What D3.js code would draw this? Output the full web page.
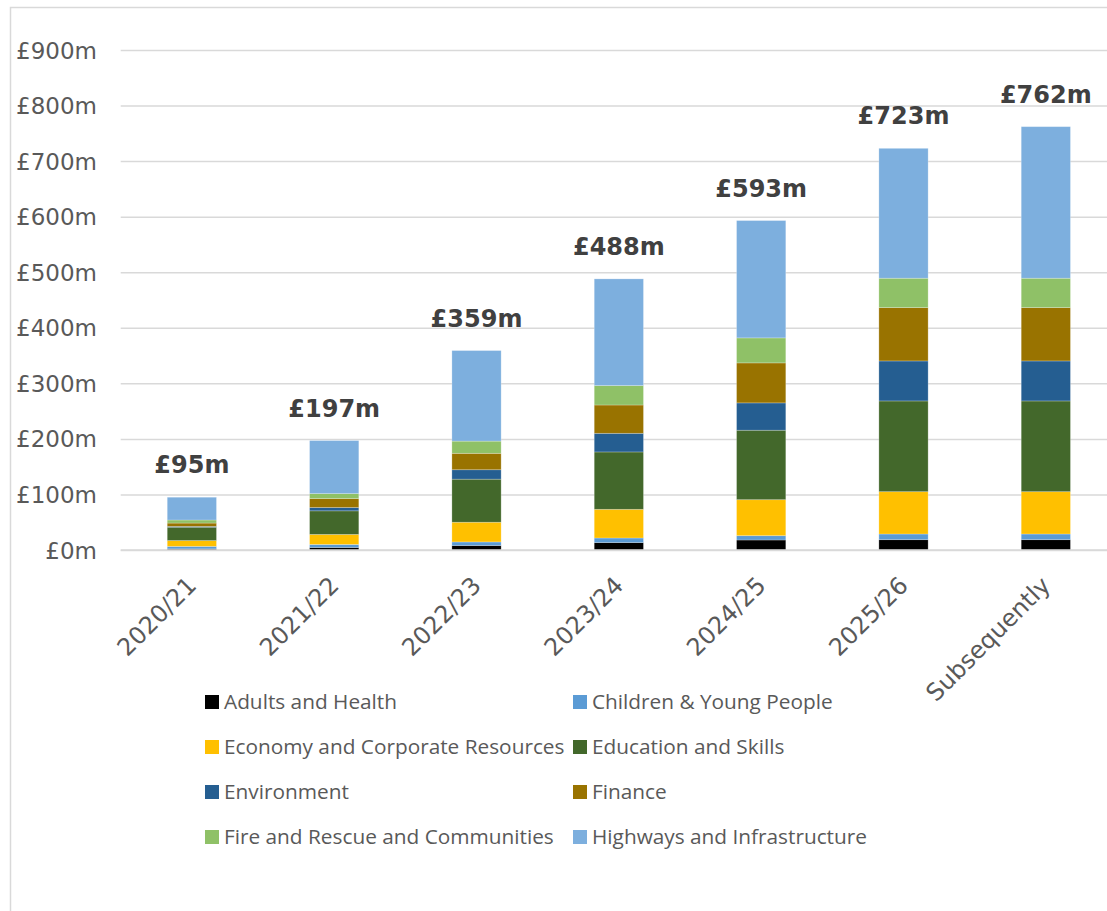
<!DOCTYPE html>
<html>
<head>
<meta charset="utf-8">
<script src="https://cdn.jsdelivr.net/npm/d3@7"></script>
<style>
  html, body { margin: 0; padding: 0; background: #ffffff; }
  svg { display: block; }
</style>
</head>
<body>
<svg id="chart" width="1107" height="911"></svg>
<script>
// ---- data ----
const categories = ["2020/21", "2021/22", "2022/23", "2023/24", "2024/25", "2025/26", "Subsequently"];
const seriesNames = [
  "Adults and Health",
  "Children & Young People",
  "Economy and Corporate Resources",
  "Education and Skills",
  "Environment",
  "Finance",
  "Fire and Rescue and Communities",
  "Highways and Infrastructure"
];
const adultsHealth      = [2,   4.5,  8,    13.3,  18,    18.6,  18.6];
const childrenYoung     = [4.5, 5.5,  6.5,  8.3,   7.8,   10.2,  10.2];
const economyCorporate  = [10.5,18,   35.5, 51.6,  64.8,  76.2,  76.2];
const educationSkills   = [24,  42.5, 77.5, 103.3, 125,   163.3, 163.3];
const environment       = [1.5, 6,    17,   33.5,  49.2,  72,    72];
const finance           = [6,   16,   29.5, 51,    72,    96,    96];
const fireRescue        = [5.5, 9,    22,   35,    45,    52.9,  52.9];
const highways          = [41,  95.5, 163,  192,   211.2, 233.8, 272.8];
const totals            = [95, 197, 359, 488, 593, 723, 762];
const totalLabels       = ["£95m", "£197m", "£359m", "£488m", "£593m", "£723m", "£762m"];
const yTicks            = [0, 100, 200, 300, 400, 500, 600, 700, 800, 900];

const seriesValues = [adultsHealth, childrenYoung, economyCorporate, educationSkills,
                      environment, finance, fireRescue, highways];
const colors = ["#000000", "#5B9BD5", "#FFC000", "#43682B", "#255E91", "#997300", "#8FC167", "#7DAFDE"];

// ---- build table ----
const table = categories.map((c, i) => {
  const row = { category: c };
  seriesNames.forEach((s, j) => { row[s] = seriesValues[j][i]; });
  return row;
});

const svg = d3.select("#chart");

// chart outer border
svg.append("rect")
  .attr("x", 10.5).attr("y", 7.5)
  .attr("width", 1130).attr("height", 930)
  .attr("fill", "#ffffff")
  .attr("stroke", "#d9d9d9").attr("stroke-width", 1.5);

const x = d3.scaleBand()
  .domain(categories)
  .range([120.7, 1117])
  .paddingInner(0.654)
  .paddingOuter(0.327);

const y = d3.scaleLinear().domain([0, 900]).range([550, 50]);

// gridlines
const grid = svg.append("g")
  .attr("transform", "translate(120.7,0)")
  .call(d3.axisLeft(y).tickValues(yTicks).tickSize(-996.3).tickFormat(""));
grid.select(".domain").remove();
grid.selectAll("line").attr("stroke", "#d9d9d9").attr("stroke-width", 1.5);

// y axis labels
const yAxis = svg.append("g")
  .attr("transform", "translate(97,0)")
  .call(d3.axisLeft(y).tickValues(yTicks).tickSize(0).tickPadding(0).tickFormat(d => "£" + d + "m"));
yAxis.select(".domain").remove();
yAxis.selectAll("text")
  .attr("font-family", "'DejaVu Sans', Verdana, sans-serif")
  .attr("font-size", 23)
  .attr("fill", "#595959")
  .attr("dy", "0.35em");

// stacked bars
const stack = d3.stack().keys(seriesNames);
const stacked = stack(table);

svg.append("g").selectAll("g")
  .data(stacked)
  .join("g")
  .attr("fill", (d, i) => colors[i])
  .selectAll("rect")
  .data(d => d)
  .join("rect")
  .attr("x", d => x(d.data.category))
  .attr("width", x.bandwidth())
  .attr("y", d => y(d[1]))
  .attr("height", d => y(d[0]) - y(d[1]))
  .attr("stroke", "#ffffff")
  .attr("stroke-opacity", 0.3)
  .attr("stroke-width", 0.8);

// baseline axis line
svg.append("line")
  .attr("x1", 120.7).attr("x2", 1117)
  .attr("y1", y(0)).attr("y2", y(0))
  .attr("stroke", "#d9d9d9").attr("stroke-width", 1.5);

// total labels
svg.append("g").selectAll("text")
  .data(categories)
  .join("text")
  .attr("x", d => x(d) + x.bandwidth() / 2)
  .attr("y", (d, i) => y(totals[i]) - 24)
  .attr("text-anchor", "middle")
  .attr("font-family", "'DejaVu Sans', Verdana, sans-serif")
  .attr("font-weight", "bold")
  .attr("font-size", 24)
  .attr("fill", "#404040")
  .text((d, i) => totalLabels[i]);

// x axis labels (rotated)
const xAxis = svg.append("g")
  .attr("transform", "translate(0,550)")
  .call(d3.axisBottom(x).tickSize(0).tickPadding(0));
xAxis.select(".domain").remove();
xAxis.selectAll("text")
  .attr("font-family", "'DejaVu Sans', Verdana, sans-serif")
  .attr("font-size", 24)
  .attr("fill", "#595959")
  .attr("text-anchor", "end")
  .attr("dy", 0)
  .attr("transform", "translate(6,37) rotate(-45)");

// legend
const legendCols = [205, 573];
const legendRows = [702, 747, 792, 837];
const legend = svg.append("g");
seriesNames.forEach((s, i) => {
  const cx = legendCols[i % 2];
  const cy = legendRows[Math.floor(i / 2)];
  legend.append("rect")
    .attr("x", cx).attr("y", cy - 7)
    .attr("width", 14).attr("height", 14)
    .attr("fill", colors[i]);
  legend.append("text")
    .attr("x", cx + 19).attr("y", cy)
    .attr("dy", "0.36em")
    .attr("font-family", "'Open Sans', sans-serif")
    .attr("font-size", 20.8)
    .attr("fill", "#595959")
    .text(s);
});
</script>
</body>
</html>
